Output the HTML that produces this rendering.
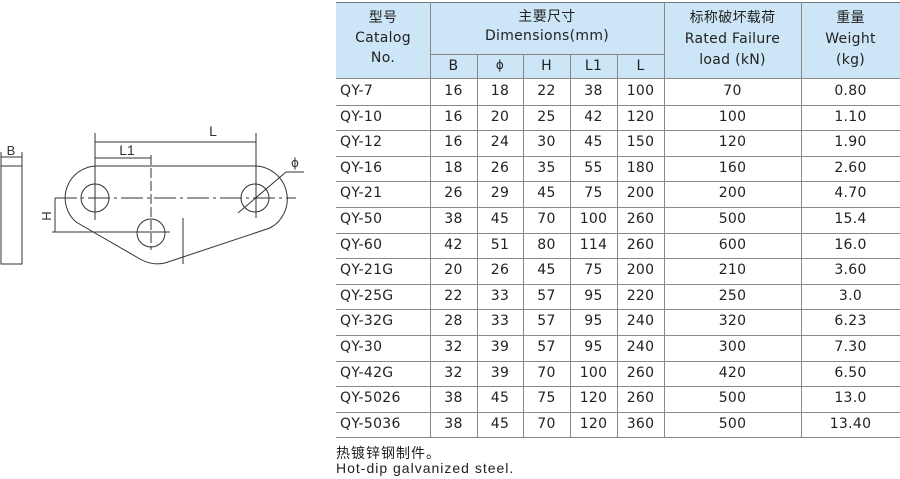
<!DOCTYPE html>
<html><head><meta charset="utf-8"><style>
body{margin:0;width:900px;height:479px;background:#fff;position:relative;overflow:hidden;font-family:"DejaVu Sans","Noto Sans CJK SC",sans-serif;color:#222}
.t{position:absolute;font-size:14px;text-align:center;white-space:nowrap;letter-spacing:0.3px}
.h{position:absolute;background:#cde6f7}
.vl{position:absolute;width:1px;background:#888}
.hl{position:absolute;height:1px;background:#888}
</style></head><body>
<svg width="320" height="300" style="position:absolute;left:0;top:0" stroke="#333" fill="none" stroke-width="1">
<rect x="1" y="166" width="21" height="98"/>
<line x1="1" y1="157" x2="22" y2="157"/><line x1="1" y1="152" x2="1" y2="166"/><line x1="22" y1="152" x2="22" y2="166"/>
<text x="11" y="155" font-size="13" fill="#333" stroke="none" text-anchor="middle" font-family="Liberation Sans">B</text>
<path d="M96,166 L255,166 A33,33 0 0 1 270,228 L165,263 Q152,266 140,259 L76,222 A32,32 0 0 1 96,166 Z"/>
<circle cx="95" cy="198" r="14"/><circle cx="151" cy="233" r="14"/><circle cx="255" cy="198" r="14"/>
<line x1="55" y1="198" x2="296" y2="198" stroke-dasharray="22,4,3,4"/>
<line x1="95" y1="133" x2="95" y2="220"/><line x1="256" y1="133" x2="256" y2="218"/>
<line x1="95" y1="142" x2="256" y2="142"/>
<text x="213" y="136" font-size="14" fill="#333" stroke="none" text-anchor="middle" font-family="Liberation Sans">L</text>
<line x1="95" y1="158" x2="151" y2="158"/><line x1="151" y1="155" x2="151" y2="250" stroke-dasharray="10,3"/>
<text x="127" y="155" font-size="14" fill="#333" stroke="none" text-anchor="middle" font-family="Liberation Sans">L1</text>
<line x1="55" y1="198" x2="55" y2="232"/><line x1="52" y1="232" x2="170" y2="232"/>
<text x="0" y="0" font-size="13" fill="#333" stroke="none" text-anchor="middle" font-family="Liberation Sans" transform="translate(51,216) rotate(-90)">H</text>
<line x1="183" y1="218" x2="183" y2="264"/>
<line x1="238" y1="213" x2="286" y2="172"/><line x1="286" y1="172" x2="304" y2="172"/>
<text x="295" y="167" font-size="12" fill="#333" stroke="none" text-anchor="middle" font-family="DejaVu Sans">ϕ</text>
</svg>

<div class="h" style="left:336px;top:2px;width:564px;height:76px"></div>
<div class="hl" style="left:336px;top:2px;width:564px;background:#777"></div>
<div class="hl" style="left:430px;top:54px;width:234px"></div>
<div class="hl" style="left:336px;top:78px;width:564px"></div>
<div class="vl" style="left:430px;top:2px;height:436px"></div>
<div class="vl" style="left:477px;top:54px;height:384px"></div>
<div class="vl" style="left:523px;top:54px;height:384px"></div>
<div class="vl" style="left:570px;top:54px;height:384px"></div>
<div class="vl" style="left:617px;top:54px;height:384px"></div>
<div class="vl" style="left:664px;top:2px;height:436px"></div>
<div class="vl" style="left:801px;top:2px;height:436px"></div>

<div class="t" style="left:336px;top:8px;width:94px;line-height:20px">型号<br>Catalog<br>No.</div>
<div class="t" style="left:430px;top:8px;width:234px;line-height:19px">主要尺寸<br>Dimensions(mm)</div>
<div class="t" style="left:664px;top:8px;width:137px;line-height:21px">标称破坏载荷<br>Rated Failure<br>load (kN)</div>
<div class="t" style="left:801px;top:8px;width:99px;line-height:21px">重量<br>Weight<br>(kg)</div>
<div class="t" style="left:430px;top:58px;width:47px">B</div>
<div class="t" style="left:477px;top:58px;width:46px;font-size:12px">ϕ</div>
<div class="t" style="left:523px;top:58px;width:47px">H</div>
<div class="t" style="left:570px;top:58px;width:47px">L1</div>
<div class="t" style="left:617px;top:58px;width:47px">L</div>

<div id="rows"></div>
<div class="t" style="left:336px;top:443px;text-align:left;font-size:14px;letter-spacing:1px">热镀锌钢制件。</div>
<div class="t" style="left:336px;top:460px;text-align:left;font-size:14px;font-family:'Liberation Sans';letter-spacing:1px">Hot-dip galvanized steel.</div>
<script>
var d=[["QY-7",16,18,22,38,100,70,"0.80"],["QY-10",16,20,25,42,120,100,"1.10"],["QY-12",16,24,30,45,150,120,"1.90"],["QY-16",18,26,35,55,180,160,"2.60"],["QY-21",26,29,45,75,200,200,"4.70"],["QY-50",38,45,70,100,260,500,"15.4"],["QY-60",42,51,80,114,260,600,"16.0"],["QY-21G",20,26,45,75,200,210,"3.60"],["QY-25G",22,33,57,95,220,250,"3.0"],["QY-32G",28,33,57,95,240,320,"6.23"],["QY-30",32,39,57,95,240,300,"7.30"],["QY-42G",32,39,70,100,260,420,"6.50"],["QY-5026",38,45,75,120,260,500,"13.0"],["QY-5036",38,45,70,120,360,500,"13.40"]];
var xs=[[340,90,'left'],[430,47],[477,46],[523,47],[570,47],[617,47],[664,137],[801,99]];
var h='';
d.forEach(function(r,i){var y=79+i*25.6;
h+='<div class="hl" style="left:336px;top:'+Math.round(y+25.6)+'px;width:564px"></div>';
r.forEach(function(v,j){var c=xs[j];h+='<div class="t" style="left:'+c[0]+'px;top:'+Math.round(y+4)+'px;width:'+c[1]+'px;'+(c[2]?'text-align:left;':'')+'">'+v+'</div>';});});
document.getElementById('rows').innerHTML=h;
</script>
</body></html>
